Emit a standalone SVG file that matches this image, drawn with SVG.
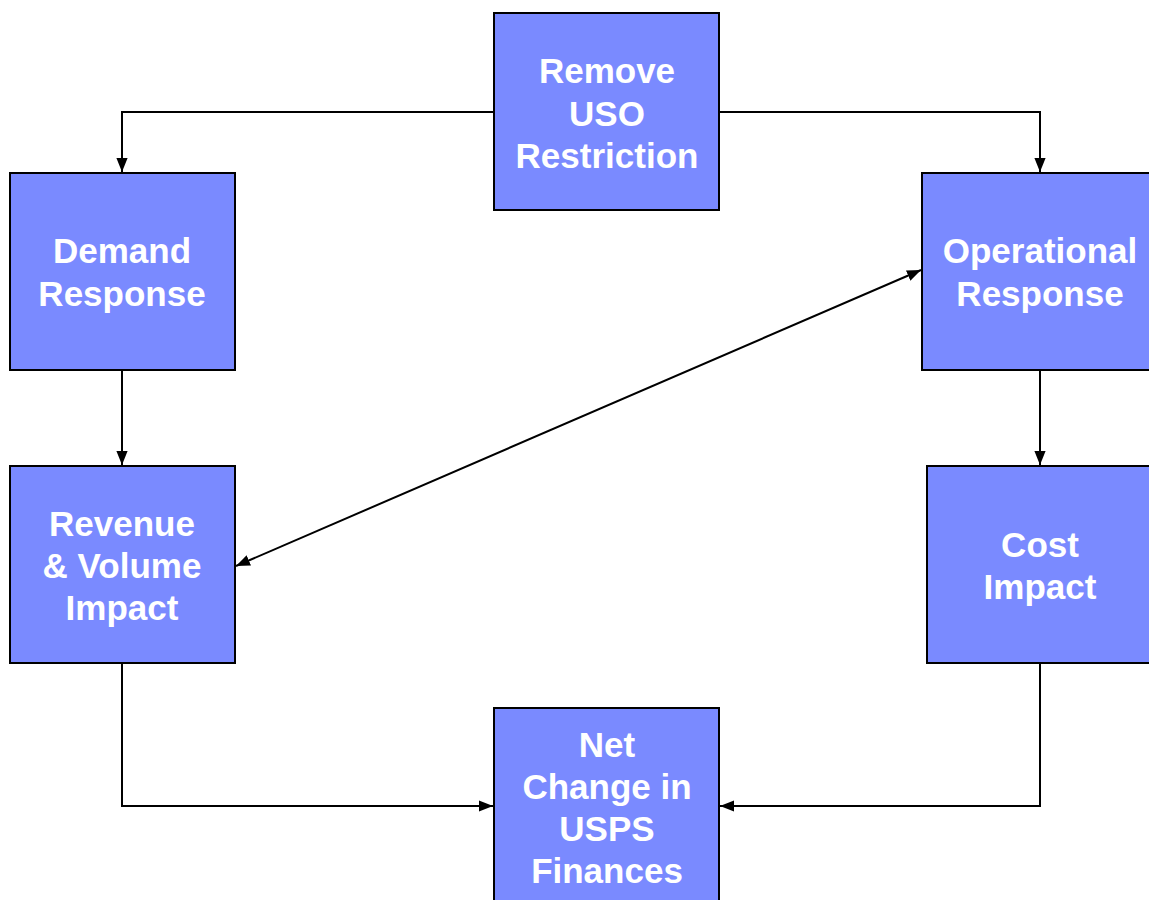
<svg xmlns="http://www.w3.org/2000/svg" width="1149" height="900" viewBox="0 0 1149 900">
<style>
.box{fill:#7A8AFF;stroke:#000;stroke-width:2}
.t{font-family:"Liberation Sans",Arial,sans-serif;font-weight:bold;font-size:35px;fill:#fff;text-anchor:middle}
.c{fill:none;stroke:#000;stroke-width:2}
</style>
<defs>
<marker id="h" viewBox="0 0 10 10" refX="10" refY="5" markerWidth="14" markerHeight="14" markerUnits="userSpaceOnUse" orient="auto-start-reverse"><path d="M0,1 L10,5 L0,9 z" fill="#000"/></marker>
</defs>
<rect width="1149" height="900" fill="#fff"/>
<g id="connectors">
<path class="c" d="M494,112 H122 V172" marker-end="url(#h)"/>
<path class="c" d="M719,112 H1040 V172" marker-end="url(#h)"/>
<path class="c" d="M122,370 V465" marker-end="url(#h)"/>
<path class="c" d="M1040,370 V465" marker-end="url(#h)"/>
<path class="c" d="M122,663 V806 H493" marker-end="url(#h)"/>
<path class="c" d="M1040,663 V806 H720" marker-end="url(#h)"/>
<path class="c" d="M236,566 L921,270" marker-start="url(#h)" marker-end="url(#h)"/>
</g>
<g id="remove">
<rect class="box" x="494" y="13" width="225" height="197"/>
<text class="t" x="607" y="83">Remove</text>
<text class="t" x="607" y="126">USO</text>
<text class="t" x="607" y="168">Restriction</text>
</g>
<g id="demand">
<rect class="box" x="10" y="173" width="225" height="197"/>
<text class="t" x="122" y="263">Demand</text>
<text class="t" x="122" y="306">Response</text>
</g>
<g id="operational">
<rect class="box" x="922" y="173" width="230" height="197"/>
<text class="t" x="1040" y="263">Operational</text>
<text class="t" x="1040" y="306">Response</text>
</g>
<g id="revenue">
<rect class="box" x="10" y="466" width="225" height="197"/>
<text class="t" x="122" y="536">Revenue</text>
<text class="t" x="122" y="578">&amp; Volume</text>
<text class="t" x="122" y="620">Impact</text>
</g>
<g id="cost">
<rect class="box" x="927" y="466" width="230" height="197"/>
<text class="t" x="1040" y="557">Cost</text>
<text class="t" x="1040" y="599">Impact</text>
</g>
<g id="net">
<rect class="box" x="494" y="708" width="225" height="200"/>
<text class="t" x="607" y="757">Net</text>
<text class="t" x="607" y="799">Change in</text>
<text class="t" x="607" y="841">USPS</text>
<text class="t" x="607" y="883">Finances</text>
</g>
</svg>
